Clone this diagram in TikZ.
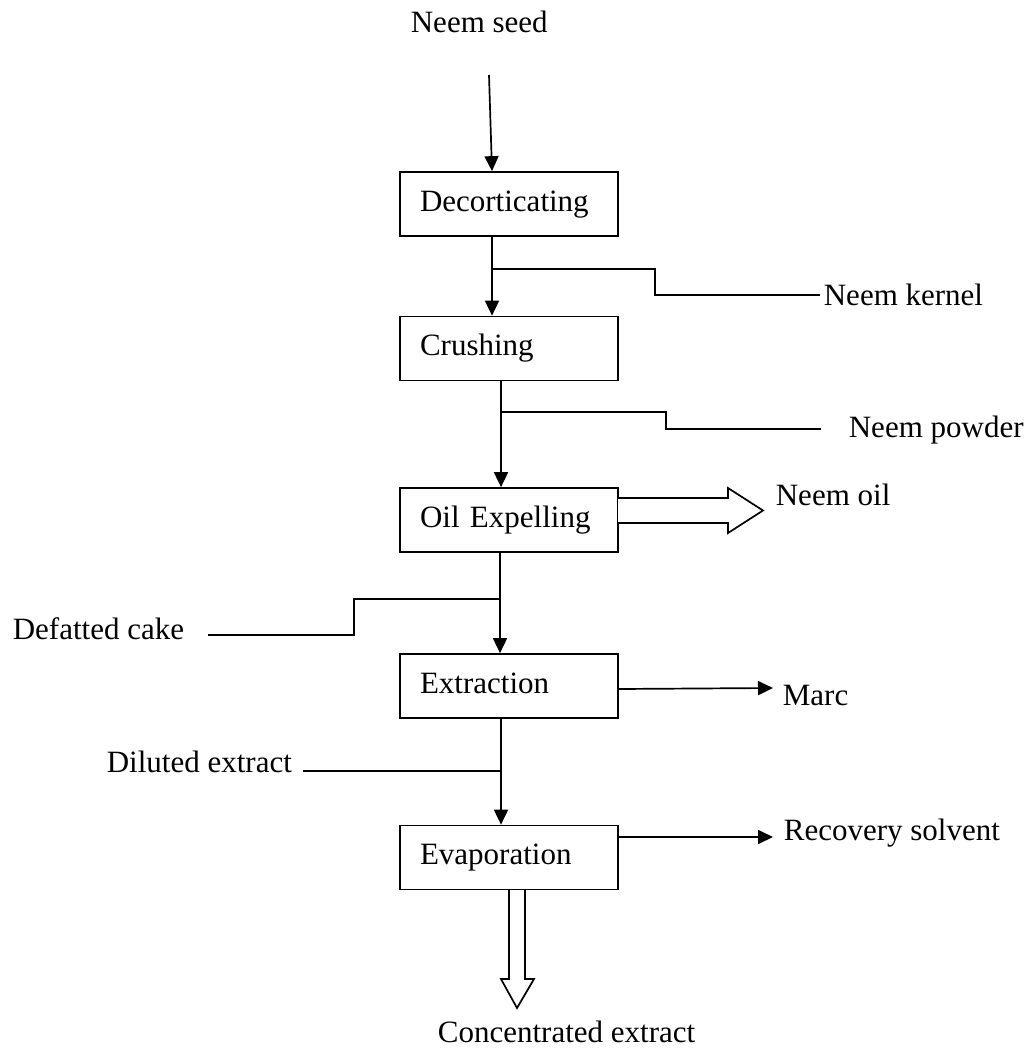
\documentclass[tikz,border=0pt]{standalone}
\usepackage{fontspec}
\setmainfont{Liberation Serif}
\usetikzlibrary{arrows.meta}
\begin{document}
\begin{tikzpicture}[x=0.5pt,y=-0.5pt,
  font=\fontsize{15.5pt}{18pt}\selectfont,
  line width=0.85pt,
  box/.style={draw, line width=0.85pt, minimum width=109pt, minimum height=32pt,
    text width=89pt, inner xsep=10pt, inner ysep=0pt, align=left,
    text height=10.25pt, text depth=3.1pt},
  lbl/.style={anchor=base west, inner sep=0pt},
  arr/.style={-{Triangle[length=7.5pt,width=7pt]}},
  flow/.style={line join=miter},
  hollow/.style={draw, line width=0.85pt, fill=white, line join=miter}]
\useasboundingbox (0,0) rectangle (1028,1048);

% process boxes
\node[box] (dec)   at (509,204)   {Decorticating};
\node[box] (crush) at (509,348.5) {Crushing};
\node[box] (oil)   at (509,520)   {Oil Expelling};
\node[box] (ext)   at (509,686)   {Extraction};
\node[box] (evap)  at (509,857.5) {Evaporation};

% labels
\node[lbl] (seed)    at (410,33)   {Neem seed};
\node[lbl] (kernel)  at (823,305)  {Neem kernel};
\node[lbl] (powder)  at (848,437)  {Neem powder};
\node[lbl] (neemoil) at (775,505)  {Neem oil};
\node[lbl] (cake)    at (12,639)   {Defatted cake};
\node[lbl] (marc)    at (782,705)  {Marc};
\node[lbl] (dil)     at (106,772)  {Diluted extract};
\node[lbl] (rec)     at (783,840)  {Recovery solvent};
\node[lbl] (conc)    at (437,1042) {Concentrated extract};

% free ends
\coordinate (s0)   at (489,75);
\coordinate (kend) at (820,295);
\coordinate (pend) at (821,429);
\coordinate (cend) at (208,635);
\coordinate (dend) at (303,771);
\coordinate (mend) at (773,688);
\coordinate (rend) at (773,837);

% main flow
\draw[arr] (s0) -- ([xshift=-8.5pt]dec.north);
\draw[arr] ([xshift=-8.5pt]dec.south) -- ([xshift=-8.5pt]crush.north);
\draw[arr] ([xshift=-4pt]crush.south) -- ([xshift=-4pt]oil.north);
\draw[arr] ([xshift=-4.5pt]oil.south) -- ([xshift=-4.5pt]ext.north);
\draw[arr] ([xshift=-4pt]ext.south) -- ([xshift=-4pt]evap.north);

% side streams
\draw[flow] (492,269) -- (655,269) -- (655,295) -- (kend);
\draw[flow] (501,412) -- (666,412) -- (666,429) -- (pend);
\draw[flow] (cend) -- (354,635) -- (354,599) -- (500,599);
\draw[flow] (dend) -- (501,771);
\draw[arr] (ext.east |- 0,689) -- (mend);
\draw[arr] (evap.east |- 0,837) -- (rend);

% hollow arrows
\draw[hollow] (618,498) -- (728,498) -- (728,488) -- (763,510.5) -- (728,533) -- (728,523) -- (618,523);
\draw[hollow] (509,890) -- (509,979) -- (501,979) -- (517,1008) -- (534,979) -- (525,979) -- (525,890);
\end{tikzpicture}
\end{document}
